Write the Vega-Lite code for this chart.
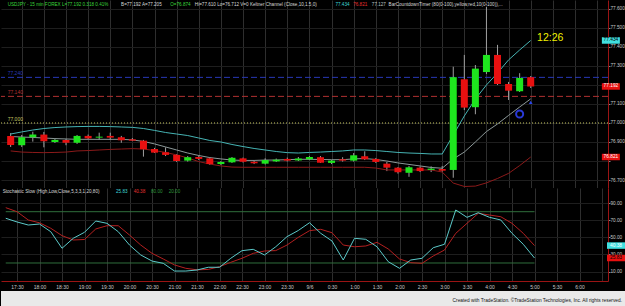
{
  "$schema": "https://vega.github.io/schema/vega-lite/v6.json",
  "background": "#000000",
  "padding": 0,
  "spacing": 0,
  "bounds": "flush",
  "config": {
    "view": {"stroke": null, "fill": "#000000"},
    "font": "Liberation Sans",
    "text": {"font": "Liberation Sans"}
  },
  "datasets": {
    "bars": [
      {"t": "2011-09-05T17:15:00", "o": 76.932, "h": 76.947, "l": 76.874, "c": 76.884, "ku": 76.942, "km": 76.929, "kl": 76.853, "k": 72.3, "d": 84.7},
      {"t": "2011-09-05T17:30:00", "o": 76.883, "h": 76.937, "l": 76.874, "c": 76.925, "ku": 76.953, "km": 76.926, "kl": 76.847, "k": 68, "d": 80},
      {"t": "2011-09-05T17:45:00", "o": 76.925, "h": 76.954, "l": 76.902, "c": 76.939, "ku": 76.963, "km": 76.924, "kl": 76.845, "k": 64.4, "d": 70.3},
      {"t": "2011-09-05T18:00:00", "o": 76.939, "h": 76.953, "l": 76.872, "c": 76.904, "ku": 76.971, "km": 76.921, "kl": 76.844, "k": 65.6, "d": 67},
      {"t": "2011-09-05T18:15:00", "o": 76.900, "h": 76.916, "l": 76.895, "c": 76.911, "ku": 76.976, "km": 76.918, "kl": 76.845, "k": 56.6, "d": 60.6},
      {"t": "2011-09-05T18:30:00", "o": 76.911, "h": 76.916, "l": 76.883, "c": 76.896, "ku": 76.979, "km": 76.916, "kl": 76.847, "k": 37.2, "d": 52},
      {"t": "2011-09-05T18:45:00", "o": 76.896, "h": 76.937, "l": 76.890, "c": 76.932, "ku": 76.981, "km": 76.914, "kl": 76.853, "k": 48.9, "d": 46.9},
      {"t": "2011-09-05T19:00:00", "o": 76.932, "h": 76.939, "l": 76.916, "c": 76.919, "ku": 76.982, "km": 76.914, "kl": 76.855, "k": 55.9, "d": 47.5},
      {"t": "2011-09-05T19:15:00", "o": 76.923, "h": 76.949, "l": 76.911, "c": 76.928, "ku": 76.982, "km": 76.914, "kl": 76.858, "k": 69.1, "d": 59.8},
      {"t": "2011-09-05T19:30:00", "o": 76.932, "h": 76.949, "l": 76.911, "c": 76.923, "ku": 76.981, "km": 76.914, "kl": 76.861, "k": 66.4, "d": 63.6},
      {"t": "2011-09-05T19:45:00", "o": 76.925, "h": 76.932, "l": 76.896, "c": 76.909, "ku": 76.979, "km": 76.914, "kl": 76.863, "k": 56.6, "d": 63.6},
      {"t": "2011-09-05T20:00:00", "o": 76.914, "h": 76.921, "l": 76.905, "c": 76.907, "ku": 76.977, "km": 76.911, "kl": 76.865, "k": 41, "d": 52.7},
      {"t": "2011-09-05T20:15:00", "o": 76.907, "h": 76.911, "l": 76.823, "c": 76.862, "ku": 76.971, "km": 76.903, "kl": 76.863, "k": 29.4, "d": 41},
      {"t": "2011-09-05T20:30:00", "o": 76.863, "h": 76.869, "l": 76.842, "c": 76.844, "ku": 76.961, "km": 76.890, "kl": 76.855, "k": 22.3, "d": 31.3},
      {"t": "2011-09-05T20:45:00", "o": 76.846, "h": 76.872, "l": 76.826, "c": 76.832, "ku": 76.950, "km": 76.874, "kl": 76.845, "k": 19.6, "d": 24.7},
      {"t": "2011-09-05T21:00:00", "o": 76.832, "h": 76.837, "l": 76.795, "c": 76.800, "ku": 76.942, "km": 76.858, "kl": 76.832, "k": 10.6, "d": 17.7},
      {"t": "2011-09-05T21:15:00", "o": 76.802, "h": 76.826, "l": 76.797, "c": 76.820, "ku": 76.934, "km": 76.842, "kl": 76.816, "k": 10.6, "d": 13.8},
      {"t": "2011-09-05T21:30:00", "o": 76.821, "h": 76.830, "l": 76.805, "c": 76.811, "ku": 76.921, "km": 76.829, "kl": 76.797, "k": 11.8, "d": 12},
      {"t": "2011-09-05T21:45:00", "o": 76.814, "h": 76.818, "l": 76.779, "c": 76.784, "ku": 76.908, "km": 76.818, "kl": 76.784, "k": 15, "d": 12.5},
      {"t": "2011-09-05T22:00:00", "o": 76.784, "h": 76.800, "l": 76.779, "c": 76.795, "ku": 76.900, "km": 76.811, "kl": 76.774, "k": 15, "d": 15.7},
      {"t": "2011-09-05T22:15:00", "o": 76.793, "h": 76.821, "l": 76.790, "c": 76.817, "ku": 76.887, "km": 76.805, "kl": 76.768, "k": 25.5, "d": 20.8},
      {"t": "2011-09-05T22:30:00", "o": 76.814, "h": 76.818, "l": 76.792, "c": 76.796, "ku": 76.876, "km": 76.803, "kl": 76.767, "k": 34.4, "d": 25.5},
      {"t": "2011-09-05T22:45:00", "o": 76.796, "h": 76.803, "l": 76.784, "c": 76.788, "ku": 76.866, "km": 76.803, "kl": 76.767, "k": 36, "d": 31.3},
      {"t": "2011-09-05T23:00:00", "o": 76.786, "h": 76.814, "l": 76.782, "c": 76.805, "ku": 76.858, "km": 76.805, "kl": 76.767, "k": 29.4, "d": 34},
      {"t": "2011-09-05T23:15:00", "o": 76.798, "h": 76.813, "l": 76.795, "c": 76.807, "ku": 76.850, "km": 76.805, "kl": 76.767, "k": 39, "d": 34.5},
      {"t": "2011-09-05T23:30:00", "o": 76.811, "h": 76.818, "l": 76.797, "c": 76.802, "ku": 76.844, "km": 76.807, "kl": 76.767, "k": 50.8, "d": 41},
      {"t": "2011-09-05T23:45:00", "o": 76.803, "h": 76.821, "l": 76.800, "c": 76.813, "ku": 76.842, "km": 76.809, "kl": 76.767, "k": 58, "d": 50},
      {"t": "2011-09-06T00:00:00", "o": 76.809, "h": 76.826, "l": 76.805, "c": 76.821, "ku": 76.845, "km": 76.809, "kl": 76.767, "k": 67.1, "d": 57.8},
      {"t": "2011-09-06T00:15:00", "o": 76.820, "h": 76.826, "l": 76.790, "c": 76.791, "ku": 76.847, "km": 76.808, "kl": 76.767, "k": 54.7, "d": 59.4},
      {"t": "2011-09-06T00:30:00", "o": 76.790, "h": 76.805, "l": 76.784, "c": 76.802, "ku": 76.850, "km": 76.807, "kl": 76.767, "k": 45.7, "d": 55.4},
      {"t": "2011-09-06T00:45:00", "o": 76.809, "h": 76.820, "l": 76.797, "c": 76.802, "ku": 76.853, "km": 76.807, "kl": 76.767, "k": 23.5, "d": 41},
      {"t": "2011-09-06T01:00:00", "o": 76.802, "h": 76.842, "l": 76.797, "c": 76.830, "ku": 76.858, "km": 76.811, "kl": 76.767, "k": 48.9, "d": 39},
      {"t": "2011-09-06T01:15:00", "o": 76.825, "h": 76.851, "l": 76.805, "c": 76.809, "ku": 76.858, "km": 76.813, "kl": 76.767, "k": 47.7, "d": 39.9},
      {"t": "2011-09-06T01:30:00", "o": 76.811, "h": 76.816, "l": 76.790, "c": 76.795, "ku": 76.855, "km": 76.808, "kl": 76.763, "k": 39, "d": 44.2},
      {"t": "2011-09-06T01:45:00", "o": 76.786, "h": 76.795, "l": 76.747, "c": 76.765, "ku": 76.850, "km": 76.800, "kl": 76.753, "k": 21.5, "d": 36.4},
      {"t": "2011-09-06T02:00:00", "o": 76.765, "h": 76.768, "l": 76.734, "c": 76.741, "ku": 76.845, "km": 76.790, "kl": 76.753, "k": 13.8, "d": 24.7},
      {"t": "2011-09-06T02:15:00", "o": 76.738, "h": 76.774, "l": 76.717, "c": 76.767, "ku": 76.842, "km": 76.782, "kl": 76.753, "k": 23.5, "d": 20.4},
      {"t": "2011-09-06T02:30:00", "o": 76.765, "h": 76.771, "l": 76.742, "c": 76.747, "ku": 76.840, "km": 76.774, "kl": 76.753, "k": 25.5, "d": 19.6},
      {"t": "2011-09-06T02:45:00", "o": 76.753, "h": 76.772, "l": 76.742, "c": 76.760, "ku": 76.837, "km": 76.766, "kl": 76.753, "k": 37.9, "d": 28.2},
      {"t": "2011-09-06T03:00:00", "o": 76.758, "h": 76.774, "l": 76.744, "c": 76.749, "ku": 76.837, "km": 76.762, "kl": 76.742, "k": 41.9, "d": 35.2},
      {"t": "2011-09-06T03:15:00", "o": 76.753, "h": 77.296, "l": 76.712, "c": 77.241, "ku": 76.937, "km": 76.811, "kl": 76.684, "k": 82, "d": 54.7},
      {"t": "2011-09-06T03:30:00", "o": 77.230, "h": 77.358, "l": 77.068, "c": 77.081, "ku": 77.037, "km": 76.847, "kl": 76.666, "k": 73.4, "d": 66.4},
      {"t": "2011-09-06T03:45:00", "o": 77.083, "h": 77.305, "l": 77.046, "c": 77.286, "ku": 77.126, "km": 76.900, "kl": 76.668, "k": 78.8, "d": 78.1},
      {"t": "2011-09-06T04:00:00", "o": 77.268, "h": 77.610, "l": 77.258, "c": 77.358, "ku": 77.200, "km": 76.955, "kl": 76.685, "k": 73.4, "d": 76.1},
      {"t": "2011-09-06T04:15:00", "o": 77.358, "h": 77.411, "l": 77.200, "c": 77.205, "ku": 77.263, "km": 76.995, "kl": 76.708, "k": 70.3, "d": 74.1},
      {"t": "2011-09-06T04:30:00", "o": 77.205, "h": 77.216, "l": 77.121, "c": 77.170, "ku": 77.332, "km": 77.040, "kl": 76.735, "k": 54.7, "d": 66.4},
      {"t": "2011-09-06T04:45:00", "o": 77.167, "h": 77.262, "l": 77.163, "c": 77.237, "ku": 77.384, "km": 77.084, "kl": 76.776, "k": 41.9, "d": 54.7},
      {"t": "2011-09-06T05:00:00", "o": 77.241, "h": 77.247, "l": 77.184, "c": 77.192, "ku": 77.434, "km": 77.127, "kl": 76.821, "k": 25.83, "d": 40.38}
    ],
    "levels": [{"level": 77.24}, {"level": 77.14}, {"level": 77.0}],
    "pbox": [{"v": 77.434, "kind": "upper"}, {"v": 77.192, "kind": "last"}, {"v": 76.821, "kind": "lower"}],
    "sbox": [{"v": 40.38, "kind": "d"}, {"v": 25.83, "kind": "k"}],
    "ob": [{"lvl": 80}, {"lvl": 20}]
  },
  "vconcat": [
    {
      "width": 607,
      "height": 188,
      "resolve": {"axis": {"x": "independent", "y": "independent"}},
      "layer": [
        {
          "data": {"name": "levels"},
          "mark": {"type": "rule", "strokeWidth": 1},
          "encoding": {
            "y": {"field": "level", "type": "quantitative", "title": null,
                  "scale": {"domain": [76.658, 77.647], "nice": false, "zero": false},
                  "axis": {"orient": "right", "values": [76.7, 76.8, 76.9, 77.0, 77.1, 77.2, 77.3, 77.4, 77.5, 77.6], "format": ".3f",
                           "labelExpr": "(abs(datum.value - 77.2) < 0.001 || abs(datum.value - 76.8) < 0.001) ? '' : datum.label",
                           "labelFontSize": 4.7, "labelColor": "#c8c8c8", "labelPadding": 0,
                           "tickSize": 2, "tickColor": "#888888", "domainColor": "#9a1414",
                           "grid": true, "gridColor": "#1e1e1e", "title": null}},
            "color": {"field": "level", "type": "nominal", "scale": {"domain": [77.24, 77.14, 77], "range": ["#2838b8", "#b03030", "#c8c860"]}, "legend": null},
            "strokeDash": {"field": "level", "type": "nominal", "scale": {"domain": [77.24, 77.14, 77], "range": [[6, 3], [6, 3], [1, 2]]}, "legend": null}
          }
        },
        {
          "data": {"name": "bars"},
          "mark": {"type": "rule", "color": "#a0a0a0", "strokeWidth": 1},
          "encoding": {
            "x": {"field": "t", "type": "temporal", "title": null,
                  "scale": {"domain": [{"year": 2011, "month": 9, "date": 5, "hours": 17, "minutes": 8, "seconds": 40}, {"year": 2011, "month": 9, "date": 6, "hours": 6, "minutes": 38, "seconds": 0}]},
                  "axis": {"labels": false, "ticks": false, "domain": false, "grid": true, "gridColor": "#2e2e2e",
                           "values": [
                             {"year": 2011, "month": 9, "date": 5, "hours": 17, "minutes": 30}, {"year": 2011, "month": 9, "date": 5, "hours": 18, "minutes": 0},
                             {"year": 2011, "month": 9, "date": 5, "hours": 18, "minutes": 30}, {"year": 2011, "month": 9, "date": 5, "hours": 19, "minutes": 0},
                             {"year": 2011, "month": 9, "date": 5, "hours": 19, "minutes": 30}, {"year": 2011, "month": 9, "date": 5, "hours": 20, "minutes": 0},
                             {"year": 2011, "month": 9, "date": 5, "hours": 20, "minutes": 30}, {"year": 2011, "month": 9, "date": 5, "hours": 21, "minutes": 0},
                             {"year": 2011, "month": 9, "date": 5, "hours": 21, "minutes": 30}, {"year": 2011, "month": 9, "date": 5, "hours": 22, "minutes": 0},
                             {"year": 2011, "month": 9, "date": 5, "hours": 22, "minutes": 30}, {"year": 2011, "month": 9, "date": 5, "hours": 23, "minutes": 0},
                             {"year": 2011, "month": 9, "date": 5, "hours": 23, "minutes": 30}, {"year": 2011, "month": 9, "date": 6, "hours": 0, "minutes": 0},
                             {"year": 2011, "month": 9, "date": 6, "hours": 0, "minutes": 30}, {"year": 2011, "month": 9, "date": 6, "hours": 1, "minutes": 0},
                             {"year": 2011, "month": 9, "date": 6, "hours": 1, "minutes": 30}, {"year": 2011, "month": 9, "date": 6, "hours": 2, "minutes": 0},
                             {"year": 2011, "month": 9, "date": 6, "hours": 2, "minutes": 30}, {"year": 2011, "month": 9, "date": 6, "hours": 3, "minutes": 0},
                             {"year": 2011, "month": 9, "date": 6, "hours": 3, "minutes": 30}, {"year": 2011, "month": 9, "date": 6, "hours": 4, "minutes": 0},
                             {"year": 2011, "month": 9, "date": 6, "hours": 4, "minutes": 30}, {"year": 2011, "month": 9, "date": 6, "hours": 5, "minutes": 0},
                             {"year": 2011, "month": 9, "date": 6, "hours": 5, "minutes": 30}, {"year": 2011, "month": 9, "date": 6, "hours": 6, "minutes": 0},
                             {"year": 2011, "month": 9, "date": 6, "hours": 6, "minutes": 30}
                           ],
                           "title": null}},
            "y": {"field": "l", "type": "quantitative", "axis": null, "title": null},
            "y2": {"field": "h"}
          }
        },
        {
          "data": {"name": "levels"},
          "mark": {"type": "text", "align": "left", "baseline": "bottom", "dy": -1, "fontSize": 5},
          "encoding": {
            "x": {"datum": {"year": 2011, "month": 9, "date": 5, "hours": 17, "minutes": 10, "seconds": 56}, "type": "temporal", "axis": null},
            "y": {"field": "level", "type": "quantitative", "axis": null, "title": null},
            "text": {"field": "level", "type": "quantitative", "format": ".3f"},
            "color": {"field": "level", "type": "nominal", "legend": null}
          }
        },
        {
          "data": {"name": "bars"},
          "mark": {"type": "line", "color": "#46b4b4", "strokeWidth": 1},
          "encoding": {
            "x": {"field": "t", "type": "temporal", "axis": null, "title": null},
            "y": {"field": "ku", "type": "quantitative", "axis": null, "title": null}
          }
        },
        {
          "data": {"name": "bars"},
          "mark": {"type": "line", "color": "#8c9898", "strokeWidth": 1},
          "encoding": {
            "x": {"field": "t", "type": "temporal", "axis": null, "title": null},
            "y": {"field": "km", "type": "quantitative", "axis": null, "title": null}
          }
        },
        {
          "data": {"name": "bars"},
          "mark": {"type": "line", "color": "#8c1a1a", "strokeWidth": 1},
          "encoding": {
            "x": {"field": "t", "type": "temporal", "axis": null, "title": null},
            "y": {"field": "kl", "type": "quantitative", "axis": null, "title": null}
          }
        },
        {
          "data": {"name": "bars"},
          "mark": {"type": "bar", "size": 7},
          "encoding": {
            "x": {"field": "t", "type": "temporal", "axis": null, "title": null},
            "y": {"field": "o", "type": "quantitative", "axis": null, "title": null},
            "y2": {"field": "c"},
            "color": {"condition": {"test": "datum.c >= datum.o", "value": "#1ee61e"}, "value": "#e81010"}
          }
        },
        {
          "data": {"values": [{}]},
          "mark": {"type": "point", "shape": "circle", "filled": false, "stroke": "#2a3ad8", "strokeWidth": 2, "size": 50, "opacity": 1},
          "encoding": {
            "x": {"datum": {"year": 2011, "month": 9, "date": 6, "hours": 4, "minutes": 45}, "type": "temporal", "axis": null},
            "y": {"datum": 77.047, "type": "quantitative", "axis": null}
          }
        },
        {
          "data": {"values": [{}]},
          "mark": {"type": "point", "shape": "triangle-up", "filled": true, "color": "#2a44e8", "size": 14, "opacity": 1},
          "encoding": {
            "x": {"datum": {"year": 2011, "month": 9, "date": 6, "hours": 5, "minutes": 0}, "type": "temporal", "axis": null},
            "y": {"datum": 77.108, "type": "quantitative", "axis": null}
          }
        },
        {
          "data": {"values": [{}]},
          "mark": {"type": "text", "align": "left", "baseline": "middle", "fontSize": 10.5, "color": "#f0f000"},
          "encoding": {
            "x": {"datum": {"year": 2011, "month": 9, "date": 6, "hours": 5, "minutes": 8, "seconds": 40}, "type": "temporal", "axis": null},
            "y": {"datum": 77.447, "type": "quantitative", "axis": null},
            "text": {"value": "12:26"}
          }
        },
        {
          "data": {"values": [{}]},
          "mark": {"type": "text", "align": "left", "baseline": "middle", "fontSize": 4.6, "color": "#39d639"},
          "encoding": {
            "x": {"datum": {"year": 2011, "month": 9, "date": 5, "hours": 17, "minutes": 10, "seconds": 56}, "type": "temporal", "axis": null},
            "y": {"datum": 77.62, "type": "quantitative", "axis": null},
            "text": {"value": "USDJPY - 15 min  FOREX  L=77.192  0.318  0.41%"}
          }
        },
        {
          "data": {"values": [{}]},
          "mark": {"type": "text", "align": "left", "baseline": "middle", "fontSize": 4.6, "color": "#d8d8d8"},
          "encoding": {
            "x": {"datum": {"year": 2011, "month": 9, "date": 5, "hours": 19, "minutes": 44, "seconds": 40}, "type": "temporal", "axis": null},
            "y": {"datum": 77.62, "type": "quantitative", "axis": null},
            "text": {"value": "B=77.192  A=77.205"}
          }
        },
        {
          "data": {"values": [{}]},
          "mark": {"type": "text", "align": "left", "baseline": "middle", "fontSize": 4.6, "color": "#39d639"},
          "encoding": {
            "x": {"datum": {"year": 2011, "month": 9, "date": 5, "hours": 20, "minutes": 51, "seconds": 20}, "type": "temporal", "axis": null},
            "y": {"datum": 77.62, "type": "quantitative", "axis": null},
            "text": {"value": "O=76.874"}
          }
        },
        {
          "data": {"values": [{}]},
          "mark": {"type": "text", "align": "left", "baseline": "middle", "fontSize": 4.6, "color": "#d8d8d8"},
          "encoding": {
            "x": {"datum": {"year": 2011, "month": 9, "date": 5, "hours": 21, "minutes": 24, "seconds": 40}, "type": "temporal", "axis": null},
            "y": {"datum": 77.62, "type": "quantitative", "axis": null},
            "text": {"value": "Hi=77.610  Lo=76.712  V=0  Keltner Channel (Close,10,1.5,0)"}
          }
        },
        {
          "data": {"values": [{}]},
          "mark": {"type": "text", "align": "left", "baseline": "middle", "fontSize": 4.6, "color": "#3fd8d8"},
          "encoding": {
            "x": {"datum": {"year": 2011, "month": 9, "date": 6, "hours": 0, "minutes": 35, "seconds": 20}, "type": "temporal", "axis": null},
            "y": {"datum": 77.62, "type": "quantitative", "axis": null},
            "text": {"value": "77.434"}
          }
        },
        {
          "data": {"values": [{}]},
          "mark": {"type": "text", "align": "left", "baseline": "middle", "fontSize": 4.6, "color": "#e83030"},
          "encoding": {
            "x": {"datum": {"year": 2011, "month": 9, "date": 6, "hours": 0, "minutes": 59, "seconds": 20}, "type": "temporal", "axis": null},
            "y": {"datum": 77.62, "type": "quantitative", "axis": null},
            "text": {"value": "76.821"}
          }
        },
        {
          "data": {"values": [{}]},
          "mark": {"type": "text", "align": "left", "baseline": "middle", "fontSize": 4.6, "color": "#b8c0c0"},
          "encoding": {
            "x": {"datum": {"year": 2011, "month": 9, "date": 6, "hours": 1, "minutes": 24, "seconds": 40}, "type": "temporal", "axis": null},
            "y": {"datum": 77.62, "type": "quantitative", "axis": null},
            "text": {"value": "77.127"}
          }
        },
        {
          "data": {"values": [{}]},
          "mark": {"type": "text", "align": "left", "baseline": "middle", "fontSize": 4.6, "color": "#d8d8d8"},
          "encoding": {
            "x": {"datum": {"year": 2011, "month": 9, "date": 6, "hours": 1, "minutes": 47, "seconds": 20}, "type": "temporal", "axis": null},
            "y": {"datum": 77.62, "type": "quantitative", "axis": null},
            "text": {"value": "BarCountdownTimer (80(0-100),yellow,red,10(0-100)),..."}
          }
        },
        {
          "data": {"name": "pbox"},
          "mark": {"type": "point", "shape": "M-1,-0.36H1V0.36H-1Z", "filled": true, "size": 324, "opacity": 1, "strokeWidth": 0},
          "encoding": {
            "x": {"datum": {"year": 2011, "month": 9, "date": 6, "hours": 6, "minutes": 48, "seconds": 40}, "type": "temporal", "axis": null},
            "y": {"field": "v", "type": "quantitative", "axis": null, "title": null},
            "fill": {"field": "kind", "type": "nominal", "scale": {"domain": ["upper", "last", "lower"], "range": ["#40e0e0", "#e81010", "#e81010"]}, "legend": null}
          }
        },
        {
          "data": {"name": "pbox"},
          "mark": {"type": "text", "align": "center", "baseline": "middle", "fontSize": 4.8},
          "encoding": {
            "x": {"datum": {"year": 2011, "month": 9, "date": 6, "hours": 6, "minutes": 48, "seconds": 40}, "type": "temporal", "axis": null},
            "y": {"field": "v", "type": "quantitative", "axis": null, "title": null},
            "text": {"field": "v", "type": "quantitative", "format": ".3f"},
            "color": {"condition": {"test": "datum.kind == 'upper'", "value": "#000000"}, "value": "#ffffff"}
          }
        }
      ]
    },
    {
      "width": 607,
      "height": 93,
      "resolve": {"axis": {"x": "independent", "y": "independent"}},
      "layer": [
        {
          "data": {"name": "ob"},
          "mark": {"type": "rule", "color": "#2f6e3c", "strokeWidth": 1},
          "encoding": {
            "x": {"datum": {"year": 2011, "month": 9, "date": 5, "hours": 17, "minutes": 15}, "type": "temporal", "axis": null},
            "x2": {"datum": {"year": 2011, "month": 9, "date": 6, "hours": 5, "minutes": 0}},
            "y": {"field": "lvl", "type": "quantitative", "title": null,
                  "scale": {"domain": [-1.05, 107.7], "nice": false, "zero": false},
                  "axis": {"orient": "right", "values": [10, 30, 50, 70, 90], "format": ".2f",
                           "labelFontSize": 4.7, "labelColor": "#c8c8c8", "labelPadding": 0,
                           "tickSize": 2, "tickColor": "#888888", "domainColor": "#9a1414",
                           "grid": true, "gridColor": "#1e1e1e", "title": null}}
          }
        },
        {
          "data": {"name": "bars"},
          "mark": {"type": "line", "color": "#b42020", "strokeWidth": 1},
          "encoding": {
            "x": {"field": "t", "type": "temporal", "title": null,
                  "scale": {"domain": [{"year": 2011, "month": 9, "date": 5, "hours": 17, "minutes": 8, "seconds": 40}, {"year": 2011, "month": 9, "date": 6, "hours": 6, "minutes": 38, "seconds": 0}]},
                  "axis": {"orient": "bottom",
                           "values": [
                             {"year": 2011, "month": 9, "date": 5, "hours": 17, "minutes": 30}, {"year": 2011, "month": 9, "date": 5, "hours": 18, "minutes": 0},
                             {"year": 2011, "month": 9, "date": 5, "hours": 18, "minutes": 30}, {"year": 2011, "month": 9, "date": 5, "hours": 19, "minutes": 0},
                             {"year": 2011, "month": 9, "date": 5, "hours": 19, "minutes": 30}, {"year": 2011, "month": 9, "date": 5, "hours": 20, "minutes": 0},
                             {"year": 2011, "month": 9, "date": 5, "hours": 20, "minutes": 30}, {"year": 2011, "month": 9, "date": 5, "hours": 21, "minutes": 0},
                             {"year": 2011, "month": 9, "date": 5, "hours": 21, "minutes": 30}, {"year": 2011, "month": 9, "date": 5, "hours": 22, "minutes": 0},
                             {"year": 2011, "month": 9, "date": 5, "hours": 22, "minutes": 30}, {"year": 2011, "month": 9, "date": 5, "hours": 23, "minutes": 0},
                             {"year": 2011, "month": 9, "date": 5, "hours": 23, "minutes": 30}, {"year": 2011, "month": 9, "date": 6, "hours": 0, "minutes": 0},
                             {"year": 2011, "month": 9, "date": 6, "hours": 0, "minutes": 30}, {"year": 2011, "month": 9, "date": 6, "hours": 1, "minutes": 0},
                             {"year": 2011, "month": 9, "date": 6, "hours": 1, "minutes": 30}, {"year": 2011, "month": 9, "date": 6, "hours": 2, "minutes": 0},
                             {"year": 2011, "month": 9, "date": 6, "hours": 2, "minutes": 30}, {"year": 2011, "month": 9, "date": 6, "hours": 3, "minutes": 0},
                             {"year": 2011, "month": 9, "date": 6, "hours": 3, "minutes": 30}, {"year": 2011, "month": 9, "date": 6, "hours": 4, "minutes": 0},
                             {"year": 2011, "month": 9, "date": 6, "hours": 4, "minutes": 30}, {"year": 2011, "month": 9, "date": 6, "hours": 5, "minutes": 0},
                             {"year": 2011, "month": 9, "date": 6, "hours": 5, "minutes": 30}, {"year": 2011, "month": 9, "date": 6, "hours": 6, "minutes": 0},
                             {"year": 2011, "month": 9, "date": 6, "hours": 6, "minutes": 30}
                           ],
                           "labelExpr": "(hours(datum.value) == 0 && minutes(datum.value) == 0) ? '9/6' : ((hours(datum.value) == 6 && minutes(datum.value) == 30) ? '' : (hours(datum.value) + ':' + (minutes(datum.value) == 0 ? '00' : '30')))",
                           "labelFontSize": 5, "labelColor": "#c8c8c8", "labelPadding": 3,
                           "labelOverlap": false, "labelFlush": false,
                           "ticks": false, "domainColor": "#9a1414",
                           "grid": true, "gridColor": "#2e2e2e", "title": null}},
            "y": {"field": "d", "type": "quantitative", "axis": null, "title": null}
          }
        },
        {
          "data": {"name": "bars"},
          "mark": {"type": "line", "color": "#5ccaca", "strokeWidth": 1},
          "encoding": {
            "x": {"field": "t", "type": "temporal", "axis": null, "title": null},
            "y": {"field": "k", "type": "quantitative", "axis": null, "title": null}
          }
        },
        {
          "data": {"values": [{}]},
          "mark": {"type": "text", "align": "left", "baseline": "middle", "fontSize": 4.6, "color": "#d8d8d8"},
          "encoding": {
            "x": {"datum": {"year": 2011, "month": 9, "date": 5, "hours": 17, "minutes": 10, "seconds": 56}, "type": "temporal", "axis": null},
            "y": {"datum": 103.4, "type": "quantitative", "axis": null},
            "text": {"value": "Stochastic Slow (High,Low,Close,5,3,3,1,20,80)"}
          }
        },
        {
          "data": {"values": [{}]},
          "mark": {"type": "text", "align": "left", "baseline": "middle", "fontSize": 4.6, "color": "#3fd8d8"},
          "encoding": {
            "x": {"datum": {"year": 2011, "month": 9, "date": 5, "hours": 19, "minutes": 42, "seconds": 0}, "type": "temporal", "axis": null},
            "y": {"datum": 103.4, "type": "quantitative", "axis": null},
            "text": {"value": "25.83"}
          }
        },
        {
          "data": {"values": [{}]},
          "mark": {"type": "text", "align": "left", "baseline": "middle", "fontSize": 4.6, "color": "#e83030"},
          "encoding": {
            "x": {"datum": {"year": 2011, "month": 9, "date": 5, "hours": 20, "minutes": 5, "seconds": 36}, "type": "temporal", "axis": null},
            "y": {"datum": 103.4, "type": "quantitative", "axis": null},
            "text": {"value": "40.38"}
          }
        },
        {
          "data": {"values": [{}]},
          "mark": {"type": "text", "align": "left", "baseline": "middle", "fontSize": 4.6, "color": "#2f9a3c"},
          "encoding": {
            "x": {"datum": {"year": 2011, "month": 9, "date": 5, "hours": 20, "minutes": 28, "seconds": 40}, "type": "temporal", "axis": null},
            "y": {"datum": 103.4, "type": "quantitative", "axis": null},
            "text": {"value": "80.00"}
          }
        },
        {
          "data": {"values": [{}]},
          "mark": {"type": "text", "align": "left", "baseline": "middle", "fontSize": 4.6, "color": "#2f9a3c"},
          "encoding": {
            "x": {"datum": {"year": 2011, "month": 9, "date": 5, "hours": 20, "minutes": 52, "seconds": 16}, "type": "temporal", "axis": null},
            "y": {"datum": 103.4, "type": "quantitative", "axis": null},
            "text": {"value": "20.00"}
          }
        },
        {
          "data": {"name": "sbox"},
          "mark": {"type": "point", "shape": "M-1,-0.36H1V0.36H-1Z", "filled": true, "size": 324, "opacity": 1, "strokeWidth": 0},
          "encoding": {
            "x": {"datum": {"year": 2011, "month": 9, "date": 6, "hours": 6, "minutes": 48, "seconds": 40}, "type": "temporal", "axis": null},
            "y": {"field": "v", "type": "quantitative", "axis": null, "title": null},
            "fill": {"field": "kind", "type": "nominal", "scale": {"domain": ["d", "k"], "range": ["#e81010", "#40e0e0"]}, "legend": null}
          }
        },
        {
          "data": {"name": "sbox"},
          "mark": {"type": "text", "align": "center", "baseline": "middle", "fontSize": 4.8},
          "encoding": {
            "x": {"datum": {"year": 2011, "month": 9, "date": 6, "hours": 6, "minutes": 48, "seconds": 40}, "type": "temporal", "axis": null},
            "y": {"field": "v", "type": "quantitative", "axis": null, "title": null},
            "text": {"field": "v", "type": "quantitative", "format": ".2f"},
            "color": {"condition": {"test": "datum.kind == 'k'", "value": "#000000"}, "value": "#ffffff"}
          }
        }
      ]
    },
    {
      "width": 625,
      "height": 25,
      "view": {"fill": null, "stroke": null},
      "data": {"values": [{}]},
      "layer": [
        {
          "mark": {"type": "rect", "color": "#e9e9e9"},
          "encoding": {
            "x": {"datum": 0, "type": "quantitative", "scale": {"domain": [0, 1], "nice": false, "zero": false}, "axis": null},
            "x2": {"datum": 1},
            "y": {"datum": 0, "type": "quantitative", "scale": {"domain": [0, 25], "nice": false, "zero": false}, "axis": null},
            "y2": {"datum": 15}
          }
        },
        {
          "mark": {"type": "text", "align": "right", "baseline": "middle", "fontSize": 4.8, "color": "#111111"},
          "encoding": {
            "x": {"datum": 0.9936, "type": "quantitative", "axis": null},
            "y": {"datum": 5, "type": "quantitative", "axis": null},
            "text": {"value": "Created with TradeStation. ©TradeStation Technologies, Inc. All rights reserved."}
          }
        }
      ]
    }
  ]
}
